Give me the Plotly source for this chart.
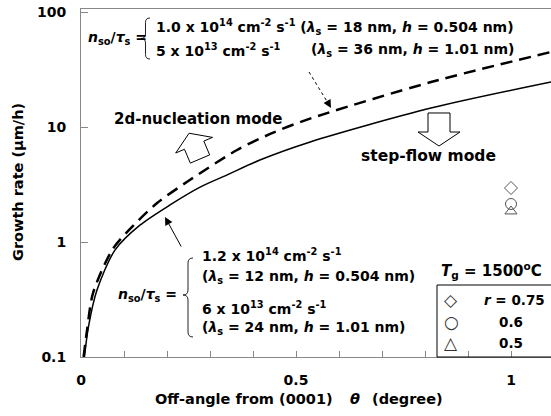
import plotly.graph_objects as go

# ---------------- data ----------------
theta_solid = [0.008, 0.017, 0.037, 0.079, 0.137, 0.207, 0.277, 0.340, 0.416, 0.533, 0.814, 1.093]
rate_solid = [0.10, 0.18, 0.38, 0.85, 1.40, 2.10, 3.00, 3.83, 5.16, 7.41, 14.6, 24.6]

theta_dashed = [0.006, 0.014, 0.028, 0.074, 0.121, 0.177, 0.253, 0.363, 0.440, 0.526, 0.814, 1.093]
rate_dashed = [0.10, 0.17, 0.36, 0.87, 1.38, 2.18, 3.46, 6.31, 8.70, 11.6, 24.6, 44.9]

exp_theta = [1.0, 1.0, 1.0]
exp_rate = [2.95, 2.14, 1.85]
exp_symbols = ["diamond-open", "circle-open", "triangle-up-open"]
exp_sizes = [10, 11, 10.5]
r_labels = ["<i>r</i> = 0.75", "0.6", "0.5"]
legend_glyphs = ["\u25C7", "\u25CB", "\u25B3"]

x_tickvals = [0, 0.5, 1]
x_ticktext = ["0", "0.5", "1"]
y_tickvals = [0.1, 1, 10, 100]
y_ticktext = ["0.1", "1", "10", "100"]

# ---------------- layout geometry ----------------
W, H = 551, 416
ML, MR, MT, MB = 81, 0, 9, 59
PW = W - ML - MR
PH = H - MT - MB
FONT = "DejaVu Sans"


def px(x):
    return (x - ML) / PW


def py(y):
    return (H - MB - y) / PH


fig = go.Figure()

fig.add_trace(go.Scatter(x=theta_solid, y=rate_solid, mode="lines",
                         line=dict(color="black", width=1.5, shape="spline", smoothing=0.8),
                         showlegend=False, hoverinfo="skip"))
fig.add_trace(go.Scatter(x=theta_dashed, y=rate_dashed, mode="lines",
                         line=dict(color="black", width=2.5, dash="12px,7px", shape="spline", smoothing=0.8),
                         showlegend=False, hoverinfo="skip"))
for t, r, s, sz in zip(exp_theta, exp_rate, exp_symbols, exp_sizes):
    fig.add_trace(go.Scatter(x=[t], y=[r], mode="markers",
                             marker=dict(symbol=s, size=sz, color="#555555",
                                         line=dict(color="#555555", width=1)),
                             showlegend=False, hoverinfo="skip"))

annotations = []


def ann(text, x, y, size=14, xanchor="left", weight="bold", family=FONT, color="black", textangle=0):
    annotations.append(dict(text=text, x=px(x), y=py(y), xref="paper", yref="paper",
                            xanchor=xanchor, yanchor="middle", showarrow=False,
                            textangle=textangle,
                            font=dict(family=family, size=size, color=color, weight=weight)))


NS = "<i>n</i><sub>so</sub>/<i>\u03c4</i><sub>s</sub> ="

# top block
ann(NS, 86, 38, 14)
ann("1.0 x 10<sup>14</sup> cm<sup>-2</sup> s<sup>-1</sup> (<i>\u03bb</i><sub>s</sub> = 18 nm, <i>h</i> = 0.504 nm)", 154, 27, 14)
ann("5 x 10<sup>13</sup> cm<sup>-2</sup> s<sup>-1</sup>", 154, 50, 14)
ann("(<i>\u03bb</i><sub>s</sub> = 36 nm, <i>h</i> = 1.01 nm)", 309, 50, 14)

# lower block
ann(NS, 116, 295, 14)
ann("1.2 x 10<sup>14</sup> cm<sup>-2</sup> s<sup>-1</sup>", 200, 255, 14)
ann("(<i>\u03bb</i><sub>s</sub> = 12 nm, <i>h</i> = 0.504 nm)", 200, 277, 14)
ann("6 x 10<sup>13</sup> cm<sup>-2</sup> s<sup>-1</sup>", 200, 308, 14)
ann("(<i>\u03bb</i><sub>s</sub> = 24 nm, <i>h</i> = 1.01 nm)", 200, 328, 14)

# mode labels
ann("2d-nucleation mode", 112, 119, 15)
ann("step-flow mode", 498, 156, 15.5, xanchor="right")

# temperature and legend
ann("<i>T</i><sub>g</sub> = 1500<sup>o</sup>C", 491, 270, 15, xanchor="center")
legend_y = [300, 322, 343]
for g, yy in zip(legend_glyphs, legend_y):
    ann(g, 451, yy, 17, xanchor="center", weight="normal", color="#333333")
for lab, yy in zip(r_labels, legend_y):
    if lab.startswith("<i>"):
        ann(lab, 482, yy, 13.5)
    else:
        ann(lab, 511, yy, 13.5, xanchor="center")

# axis titles
ann("Off-angle from (0001)", 244, 399, 14.5, xanchor="center")
ann("<i>\u03b8</i>", 355, 399, 14.5, xanchor="center")
ann("(degree)", 407, 399, 14.5, xanchor="center")
ann("Growth rate (\u03bcm/h)", 18, 182, 14.5, xanchor="center", textangle=-90)

# arrows (heads)
annotations.append(dict(x=px(165), y=py(217), xref="paper", yref="paper", text="",
                        showarrow=True, ax=17, ay=31, axref="pixel", ayref="pixel",
                        arrowhead=2, arrowsize=1.6, arrowwidth=1, arrowcolor="black", standoff=0))
annotations.append(dict(x=px(331), y=py(108), xref="paper", yref="paper", text="",
                        showarrow=True, ax=-4, ay=-7, axref="pixel", ayref="pixel",
                        arrowhead=2, arrowsize=1.6, arrowwidth=1, arrowcolor="black", standoff=0))

shapes = []


def brace_path(xl, xr, yt, yb, yc):
    xm = (xl + xr) / 2
    r = (xr - xl) / 2
    pts = [
        ("M", [(xr, yt)]),
        ("Q", [(xm, yt), (xm, yt + r)]),
        ("L", [(xm, yc - r)]),
        ("Q", [(xm, yc), (xl, yc)]),
        ("Q", [(xm, yc), (xm, yc + r)]),
        ("L", [(xm, yb - r)]),
        ("Q", [(xm, yb), (xr, yb)]),
    ]
    s = ""
    for cmd, ps in pts:
        s += cmd + " " + " ".join(f"{px(a):.5f},{py(b):.5f}" for a, b in ps) + " "
    return s.strip()


shapes.append(dict(type="path", xref="paper", yref="paper",
                   path=brace_path(141, 150, 18, 59, 38.5), line=dict(color="#222222", width=1)))
shapes.append(dict(type="path", xref="paper", yref="paper",
                   path=brace_path(183, 193, 258, 337, 295), line=dict(color="#222222", width=1)))


def block_arrow(bx, by, dx, dy, sw, sl, hw, hl):
    n = (dx * dx + dy * dy) ** 0.5
    dx, dy = dx / n, dy / n
    nx, ny = -dy, dx
    p = [
        (bx + nx * sw, by + ny * sw),
        (bx + dx * sl + nx * sw, by + dy * sl + ny * sw),
        (bx + dx * sl + nx * hw, by + dy * sl + ny * hw),
        (bx + dx * (sl + hl), by + dy * (sl + hl)),
        (bx + dx * sl - nx * hw, by + dy * sl - ny * hw),
        (bx + dx * sl - nx * sw, by + dy * sl - ny * sw),
        (bx - nx * sw, by - ny * sw),
    ]
    s = "M " + " L ".join(f"{px(a):.5f},{py(b):.5f}" for a, b in p) + " Z"
    return s


shapes.append(dict(type="path", xref="paper", yref="paper",
                   path=block_arrow(200, 159, -0.39, -0.92, 10.5, 15, 20, 13),
                   line=dict(color="black", width=1), fillcolor="white"))
shapes.append(dict(type="path", xref="paper", yref="paper",
                   path=block_arrow(439, 113, 0, 1, 11, 19, 21, 14),
                   line=dict(color="black", width=1), fillcolor="white"))

# dotted leader line
shapes.append(dict(type="line", xref="paper", yref="paper",
                   x0=px(309), y0=py(72), x1=px(328), y1=py(103),
                   line=dict(color="black", width=1, dash="3px,3px")))

# legend frame
shapes.append(dict(type="rect", xref="paper", yref="paper",
                   x0=px(437), y0=py(357), x1=px(570), y1=py(285),
                   line=dict(color="black", width=1), fillcolor="rgba(0,0,0,0)"))

AX = "#888888"
fig.update_layout(
    width=W, height=H,
    margin=dict(l=ML, r=MR, t=MT, b=MB, autoexpand=False),
    plot_bgcolor="white", paper_bgcolor="white",
    font=dict(family=FONT, size=13, color="black"),
    annotations=annotations, shapes=shapes,
    hovermode=False,
    xaxis=dict(range=[0, PW / 430], tickvals=x_tickvals, ticktext=x_ticktext,
               ticks="inside", ticklen=6, tickcolor=AX, tickwidth=1,
               minor=dict(dtick=0.1, tick0=0, ticks="inside", ticklen=6, tickcolor=AX),
               showline=True, linecolor=AX, linewidth=1, mirror=True,
               showgrid=False, zeroline=False, ticklabelstandoff=10,
               tickfont=dict(family=FONT, size=14, color="black", weight="bold")),
    yaxis=dict(type="log", range=[-1, -1 + PH / 115], tickvals=y_tickvals, ticktext=y_ticktext,
               ticks="inside", ticklen=7, tickcolor=AX, tickwidth=1,
               showline=True, linecolor=AX, linewidth=1, mirror=False,
               showgrid=False, zeroline=False, ticklabelstandoff=11,
               tickfont=dict(family=FONT, size=14, color="black", weight="bold")),
)

fig.write_html("out.html", config={"displayModeBar": False},
               post_script="document.body.style.margin='0';document.body.style.overflow='hidden';")
